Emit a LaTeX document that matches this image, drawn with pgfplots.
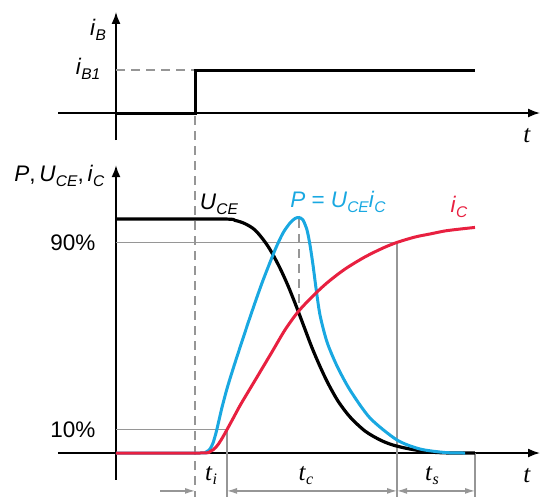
\documentclass[border=0pt]{standalone}
\usepackage{pgfplots}
\pgfplotsset{compat=1.18}
\usepackage{fontspec}
\setmainfont{Liberation Sans}
\newfontfamily\serif{Liberation Serif}
\usetikzlibrary{arrows.meta}

\definecolor{pblue}{RGB}{25,168,225}
\definecolor{icred}{RGB}{232,32,64}
\definecolor{guide}{RGB}{150,150,150}

% variable with subscript, sans italic
\newcommand{\var}[2]{\textit{#1}\raisebox{-0.4ex}{\fontsize{15.5}{15.5}\selectfont\textit{#2}}}
% time symbol, serif italic
\newcommand{\tsym}[1]{{\serif\fontsize{25}{25}\selectfont\textit{t}\raisebox{-0.35ex}{\fontsize{16}{16}\selectfont\textit{#1}}}}

\begin{document}
\begin{tikzpicture}
\path[use as bounding box] (0,0) rectangle (544pt,-501pt);
\fontsize{22.5}{25}\selectfont

% switching instant, common to both panels
\draw[guide, line width=1.3pt, dash pattern=on 9pt off 6pt] (195pt,-116pt) -- (195pt,-497pt);

%----------------------------------------------------------- base current
\begin{axis}[
  x=100pt, y=43pt, anchor=origin, at={(116pt,-113pt)},
  xmin=-0.58, xmax=4.24, ymin=-0.63, ymax=2.35,
  axis lines=middle, ticks=none, clip=false,
  axis line style={line width=1.6pt, -{Latex[length=12pt,width=9pt]}},
]
\draw[guide, line width=1.3pt, dash pattern=on 9pt off 6pt] (axis cs:0,1) -- (axis cs:0.79,1);
\addplot[black, line width=3pt, line join=miter] coordinates {
  (0,0) (0.79,0) (0.79,1) (3.59,1)};
\node[anchor=center] at (axis cs:-0.18,1.93) {\var{i}{B}};
\node[anchor=east] at (axis cs:-0.08,1.02) {\var{i}{B1}};
\node at (axis cs:4.11,-0.56) {\tsym{}};
\end{axis}

%----------------------------------------------------------- switch-on transient
\begin{axis}[
  x=100pt, y=2.34pt, anchor=origin, at={(116pt,-453pt)},
  xmin=-0.58, xmax=4.24, ymin=-11.5, ymax=123,
  axis lines=middle, ticks=none, clip=false,
  axis line style={line width=1.6pt, -{Latex[length=12pt,width=9pt]}},
]
% 10 % / 90 % reference lines and interval boundaries
\draw[guide, line width=1.2pt] (axis cs:0,90) -- (axis cs:2.81,90) -- (axis cs:2.81,-18.8);
\draw[guide, line width=1.2pt] (axis cs:0,10) -- (axis cs:1.11,10) -- (axis cs:1.11,-18.8);
\draw[guide, line width=1.2pt] (axis cs:3.59,0) -- (axis cs:3.59,-18.8);
\draw[guide, line width=1.2pt, dash pattern=on 9pt off 6pt] (axis cs:1.83,100) -- (axis cs:1.83,60);

% interval arrows
\begin{scope}[guide, line width=1.2pt]
\draw[-{Latex[length=10pt,width=6pt]}] (axis cs:0.44,-16.2) -- (axis cs:0.79,-16.2);
\draw[{Latex[length=10pt,width=6pt]}-{Latex[length=10pt,width=6pt]}] (axis cs:1.11,-16.2) -- (axis cs:2.81,-16.2);
\draw[{Latex[length=10pt,width=6pt]}-{Latex[length=10pt,width=6pt]}] (axis cs:2.81,-16.2) -- (axis cs:3.59,-16.2);
\end{scope}

% collector-emitter voltage
\addplot[black, line width=3.2pt, smooth, tension=0.5] coordinates {
  (0,100) (1.06,100) (1.19,99.4) (1.29,98.0) (1.39,95.3) (1.49,90.2)
  (1.56,85.5) (1.64,79.0) (1.72,71.5) (1.80,63.0) (1.88,54.0)
  (1.96,45.0) (2.04,37.0) (2.12,29.8) (2.22,22.2) (2.34,15.4)
  (2.49,9.4) (2.64,5.6) (2.77,3.4) (2.94,1.7) (3.14,0.43) (3.34,0) (3.59,0)};

% power loss
\addplot[pblue, line width=3pt, smooth, tension=0.45] coordinates {
  (0,0) (0.84,0) (0.90,0.43) (0.94,1.71) (0.97,4.27) (1.00,8.6)
  (1.03,14.0) (1.06,19.5) (1.11,27.5) (1.16,34.5) (1.22,42.5) (1.34,58.0)
  (1.46,72.65) (1.59,86.75) (1.67,94.02) (1.74,98.29) (1.79,100.21)
  (1.83,100.64) (1.87,99.57) (1.91,95.30) (1.94,88.89) (1.97,80.34)
  (2.00,70.51) (2.04,58.97) (2.11,47.44) (2.21,37.18) (2.34,26.92)
  (2.54,14.96) (2.81,5.56) (3.04,1.71) (3.29,0.21) (3.49,0)};

% collector current
\addplot[icred, line width=3pt, smooth, tension=0.5] coordinates {
  (0,0) (0.84,0) (0.94,0.6) (1.00,2.5) (1.05,5.5) (1.11,10)
  (1.18,15.5) (1.25,21.0) (1.39,31.0) (1.56,43.2) (1.69,52.6) (1.82,60.3)
  (1.96,66.7) (2.11,72.7) (2.29,78.6) (2.49,83.8) (2.67,87.6)
  (2.81,90) (2.99,92.3) (3.14,93.6) (3.29,94.9) (3.44,95.7) (3.59,96.4)};

% labels
\node[anchor=east] at (axis cs:-0.13,90) {90\%};
\node[anchor=east] at (axis cs:-0.13,10) {10\%};
\node[anchor=east] at (axis cs:-0.04,118.4) {\textit{P},\,\var{U}{CE},\,\var{i}{C}};
\node at (axis cs:1.03,106.4) {\var{U}{CE}};
\node[text=pblue] at (axis cs:2.22,107.3) {\textit{P} = \var{U}{CE}\var{i}{C}};
\node[text=icred] at (axis cs:3.43,105.1) {\var{i}{C}};
\node at (axis cs:0.95,-9.8) {\tsym{i}};
\node at (axis cs:1.90,-9.8) {\tsym{c}};
\node at (axis cs:3.16,-9.8) {\tsym{s}};
\node at (axis cs:4.11,-10.3) {\tsym{}};
\end{axis}
\end{tikzpicture}
\end{document}
